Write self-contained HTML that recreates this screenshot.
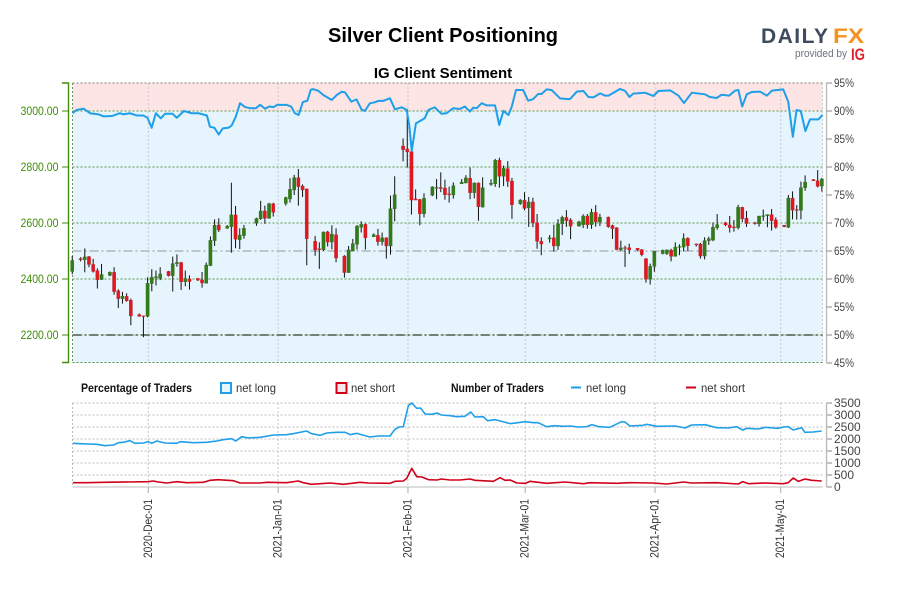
<!DOCTYPE html>
<html lang="en">
<head>
<meta charset="utf-8">
<title>Silver Client Positioning</title>
<style>
html,body{margin:0;padding:0;background:#fff;width:900px;height:600px;overflow:hidden}
svg{display:block;font-family:"Liberation Sans",Arial,sans-serif}
.nw{font-family:"Liberation Sans Narrow","Liberation Sans",Arial,sans-serif}
</style>
</head>
<body>
<svg id="chart" xmlns="http://www.w3.org/2000/svg" width="900" height="600" viewBox="0 0 900 600">
  <rect x="0" y="0" width="900" height="600" fill="#fff"/>
  <text x="443" y="42" text-anchor="middle" font-size="20" font-weight="bold" fill="#000">Silver Client Positioning</text>
  <text x="443" y="78" text-anchor="middle" font-size="15" font-weight="bold" fill="#000">IG Client Sentiment</text>
  <g>
    <text x="761" y="43" font-size="21" font-weight="bold" fill="#3f4a5c" textLength="67" lengthAdjust="spacing">DAILY</text>
    <text x="833" y="43" font-size="21" font-weight="bold" fill="#f5911e" textLength="31" lengthAdjust="spacingAndGlyphs">FX</text>
    <text x="795" y="57" font-size="11" fill="#6b7280" textLength="52" lengthAdjust="spacingAndGlyphs">provided by</text>
    <text x="851" y="60" font-size="17" font-weight="bold" fill="#e3202a" textLength="14" lengthAdjust="spacingAndGlyphs">IG</text>
  </g>
  <g id="main"></g>
  <g id="legend" class="nw" font-size="12">
    <text x="81" y="392" font-weight="bold" fill="#111" textLength="111" lengthAdjust="spacingAndGlyphs">Percentage of Traders</text>
    <rect x="221" y="383" width="10" height="10" fill="#e6f4fc" stroke="#1f9fe8" stroke-width="2"/>
    <text x="236" y="392" fill="#333" textLength="40" lengthAdjust="spacingAndGlyphs">net long</text>
    <rect x="336.5" y="383" width="10" height="10" fill="#f6e8ea" stroke="#d0021b" stroke-width="2"/>
    <text x="351" y="392" fill="#333" textLength="44" lengthAdjust="spacingAndGlyphs">net short</text>
    <text x="451" y="392" font-weight="bold" fill="#111" textLength="93" lengthAdjust="spacingAndGlyphs">Number of Traders</text>
    <line x1="571" x2="581" y1="387.5" y2="387.5" stroke="#1f9fe8" stroke-width="2"/>
    <text x="586" y="392" fill="#333" textLength="40" lengthAdjust="spacingAndGlyphs">net long</text>
    <line x1="686" x2="696" y1="387.5" y2="387.5" stroke="#d0021b" stroke-width="2"/>
    <text x="701" y="392" fill="#333" textLength="44" lengthAdjust="spacingAndGlyphs">net short</text>
  </g>
  <g id="lower"></g>
</svg>
<script>
const dateTickDays = [0, 31, 62, 90, 121, 151];
const dateTickLabels = ["2020-Dec-01", "2021-Jan-01", "2021-Feb-01", "2021-Mar-01", "2021-Apr-01", "2021-May-01"];
const priceTicks = [2200, 2400, 2600, 2800, 3000];
const percentTicks = [45, 50, 55, 60, 65, 70, 75, 80, 85, 90, 95];
const countTicks = [0, 500, 1000, 1500, 2000, 2500, 3000, 3500];

const candleDays = [-18,-16,-15,-14,-13,-12,-11,-9,-8,-7,-6,-5,-4,-2,-1,0,1,2,3,5,6,7,8,9,10,12,13,14,15,16,17,19,20,21,22,23,26,27,28,29,30,33,34,35,36,37,38,40,41,42,43,44,45,47,48,49,50,51,52,54,55,56,57,58,59,61,62,63,64,65,66,68,69,70,71,72,73,75,76,77,78,79,80,82,83,84,85,86,87,89,90,91,92,93,94,96,97,98,99,100,101,103,104,105,106,107,108,110,111,112,113,114,115,117,118,119,120,121,123,124,125,126,127,128,129,131,132,133,134,135,136,138,139,140,141,142,143,145,146,147,148,149,150,152,153,154,155,156,157,159,160,161];
const opens = [
2427,2473,2469,2480,2452,2430,2398,2413,2424,2358,
2330,2338,2324,2273,2269,2267,2384,2405,2403,2427,
2412,2455,2459,2390,2400,2402,2397,2385,2448,2537,
2593,2581,2587,2629,2540,2555,2599,2615,2643,2617,
2669,2670,2686,2718,2762,2732,2722,2535,2508,2504,
2568,2532,2558,2482,2423,2500,2524,2585,2595,2551,
2556,2533,2547,2518,2651,2875,2864,2855,2686,2684,
2633,2699,2726,2727,2725,2704,2700,2740,2743,2760,
2708,2743,2657,2738,2740,2824,2767,2794,2750,2669,
2681,2654,2675,2601,2535,2543,2547,2518,2597,2620,
2611,2589,2594,2625,2594,2638,2604,2621,2591,2583,
2505,2512,2512,2510,2505,2473,2399,2445,2491,2491,
2503,2481,2513,2514,2545,2525,2525,2482,2537,2539,
2583,2601,2593,2586,2583,2656,2617,2601,2597,2624,
2626,2630,2611,2592,2585,2689,2648,2645,2726,2755,
2751,2732];
const highs = [
2482,2478,2509,2482,2472,2438,2454,2427,2442,2363,
2354,2349,2330,2277,2269,2406,2435,2430,2442,2429,
2480,2488,2461,2430,2413,2403,2425,2459,2552,2613,
2617,2593,2744,2661,2581,2593,2619,2679,2662,2672,
2672,2694,2760,2772,2793,2738,2722,2554,2531,2569,
2572,2592,2581,2485,2518,2543,2593,2606,2598,2563,
2579,2566,2549,2698,2767,2902,3007,2890,2720,2686,
2706,2731,2757,2781,2755,2730,2745,2757,2771,2798,
2745,2745,2763,2756,2829,2833,2805,2821,2761,2685,
2710,2693,2690,2632,2549,2557,2594,2614,2626,2646,
2617,2608,2631,2632,2651,2664,2633,2623,2594,2585,
2537,2519,2526,2511,2507,2474,2455,2500,2505,2505,
2508,2531,2524,2563,2549,2527,2529,2549,2551,2602,
2632,2604,2625,2611,2665,2658,2643,2604,2625,2648,
2631,2650,2620,2593,2700,2713,2664,2748,2770,2757,
2789,2761];
const lows = [
2417,2463,2424,2442,2423,2366,2397,2410,2344,2296,
2312,2319,2235,2265,2192,2263,2356,2377,2396,2409,
2355,2444,2361,2374,2362,2393,2369,2384,2446,2518,
2568,2579,2494,2510,2507,2544,2590,2611,2597,2615,
2623,2662,2673,2700,2662,2693,2449,2483,2436,2500,
2516,2506,2460,2405,2422,2499,2505,2566,2505,2550,
2519,2520,2473,2487,2606,2820,2798,2630,2682,2592,
2620,2696,2685,2710,2683,2673,2687,2739,2742,2685,
2688,2608,2655,2733,2729,2726,2732,2729,2615,2665,
2645,2586,2585,2508,2485,2530,2498,2504,2557,2586,
2542,2587,2582,2580,2579,2587,2589,2583,2543,2504,
2501,2443,2489,2501,2481,2387,2380,2426,2488,2486,
2463,2480,2485,2498,2501,2516,2473,2470,2522,2535,
2576,2589,2566,2569,2577,2604,2586,2594,2587,2608,
2585,2573,2580,2585,2582,2613,2612,2613,2715,2750,
2727,2712];
const closes = [
2466,2469,2479,2452,2427,2397,2416,2424,2355,2330,
2338,2322,2268,2267,2267,2385,2406,2408,2418,2412,
2455,2459,2390,2402,2391,2396,2386,2450,2538,2592,
2575,2588,2629,2542,2557,2581,2616,2643,2617,2669,
2638,2691,2720,2762,2730,2718,2544,2504,2505,2568,
2532,2560,2475,2423,2504,2526,2588,2595,2547,2558,
2533,2547,2518,2651,2701,2862,2854,2682,2682,2633,
2688,2729,2727,2723,2701,2701,2733,2746,2761,2708,
2743,2658,2726,2742,2824,2767,2795,2749,2665,2682,
2652,2675,2600,2535,2525,2547,2518,2597,2620,2608,
2589,2604,2625,2594,2638,2604,2621,2587,2580,2505,
2511,2510,2504,2504,2487,2399,2445,2499,2503,2504,
2481,2514,2516,2545,2519,2522,2482,2537,2544,2585,
2594,2593,2583,2583,2656,2615,2598,2598,2625,2626,
2630,2608,2585,2587,2689,2646,2645,2726,2746,2751,
2731,2757];

const sentimentDays = [-18.1,-17.1,-15.4,-13.9,-11.9,-10.7,-8.7,-6.8,-6,-4.4,-2.8,-1.2,-0.2,0.8,1.8,3,4,5.8,6.8,8.5,10.4,12,14,14.7,15.8,16.8,17.8,19.1,19.9,20.9,21.9,23.1,24.3,25.7,26.7,27.9,28.9,29.9,30.8,33,34.1,35,35.9,36.9,38,38.8,39.4,40.6,41.8,43.8,45,46.2,47,48.5,49.7,50.9,51.7,52.9,54.1,54.9,56.1,57.7,58.9,60.5,61.7,62.3,62.9,63.9,65.3,66,66.9,68.4,70,71.2,72.8,74.4,75.6,76.8,77.6,78.4,79.6,80.8,82.8,83.8,84.8,86,86.8,87.8,89.5,90.7,91.9,93.1,93.9,95.1,96.3,98.3,99.9,100.7,102.3,103.9,105.1,106.3,107.9,109.1,109.9,112.6,113.8,114.9,115.8,118.6,120.6,121.8,124.6,126.6,127.9,129.8,132.9,134.1,135.7,136.9,138.7,140.1,140.9,141.8,142.9,144.1,146.1,147.7,148.9,151.6,152.8,153.9,154.8,155.8,156.9,158,160,161];
const sentimentLong = [89.6,90.2,90.4,89.6,89.4,89.05,89.1,89.6,89.4,89.6,89.2,89.2,88.8,87,89.6,88.7,89.5,89.5,88.8,90,89.6,89.6,89.2,87.2,87,85.8,86.9,87,87.4,89,91.4,90.7,90.5,90.5,91.1,90.4,90.8,90.7,91.1,91.1,90.8,89.6,89.3,91.6,91.85,93.8,93.9,93.6,92.85,91.97,92.86,93.45,93.3,91.67,92.08,90.3,90,91.37,91.55,91.8,91.8,92.26,90.3,90.66,90.2,87.5,82.86,87.8,88.4,88.7,90.2,90.66,89.5,89.6,90.5,90.36,90.8,89.9,90.6,90.5,91.4,91,91,87.5,90,89.3,90.8,93.75,93.75,91.85,92.14,93.04,93.04,93.87,93.75,92.26,92.14,92.14,93.45,93.57,92.5,92.44,93.15,92.74,92.74,93.93,93.63,92.5,93.1,93.27,92.68,93.57,93.69,92.74,91.43,93.27,92.98,92.5,92.32,92.9,92.74,93.63,93.75,90.8,92.98,93.39,93.45,92.74,93.63,93.87,91.67,85.4,90.18,90,86.43,88.5,88.5,89.3];

const longCountDays = [-18,-16.3,-14.3,-12.3,-10.3,-8.3,-7.15,-6,-4.4,-3.2,-1.2,0,0.8,2,4,6.8,7.6,10.8,13.9,16.3,17.9,19.9,20.9,22.3,23.9,26.7,29.9,33,34.6,37.8,39,41,42.6,45,47,48.2,49.8,52.9,54.9,57.7,58.9,59.9,60.9,62.1,62.9,64.1,65,66.1,67.7,68.9,70,72,73.6,75.6,77,78,80,81,82.8,86.4,90,92,93.1,95.1,97.1,99.1,100.7,102.7,104.7,105.9,107.5,110.2,113,113.8,115,118.2,119,121.4,125.8,128.2,129.7,133,135.7,138.5,140.5,141.9,142.9,145.7,147.3,150.4,151.6,152.8,154,156,156.8,158.8,160.8];
const longCounts = [1820,1806,1792,1778,1722,1750,1847,1861,1931,1820,1833,1889,1820,1917,1833,1820,1889,1847,1861,1917,1972,2014,1917,2097,2042,2070,2167,2181,2222,2333,2222,2153,2250,2278,2278,2181,2236,2083,2125,2125,2403,2500,2514,3389,3500,3278,3292,3042,3028,3083,3000,2972,2931,2945,3125,2917,2931,2764,2806,2639,2722,2681,2681,2514,2556,2528,2542,2500,2514,2597,2514,2486,2722,2708,2542,2570,2611,2528,2542,2458,2583,2597,2472,2458,2514,2375,2445,2417,2486,2445,2500,2514,2375,2472,2278,2292,2333];
const shortCountDays = [-18,-14.7,-10.7,0,1.2,2.4,4.4,6.8,9.2,13.1,14.7,16.7,20.3,21.9,26.7,28.3,33,35.8,37,39,43.4,46.6,50.6,52.5,57.7,58.9,60.9,61.7,62.9,64.1,65.3,66.9,68.9,70,72,74.4,76.8,78,82.4,84,85.2,86.4,88,90,91.1,95.1,99.5,103.9,105.5,111.8,115,120.6,123.8,127.8,129.7,135.7,140.9,141.9,143.3,147.3,151.6,152.8,154,155.2,156.8,158.4,160.8];
const shortCounts = [180,180,194,222,250,208,167,222,180,194,278,306,264,167,167,194,180,250,180,111,167,111,194,167,153,236,250,361,778,431,417,306,292,333,292,292,333,278,236,389,278,292,167,153,236,153,208,139,180,153,180,167,125,208,167,180,125,222,139,167,139,180,375,236,333,278,250];

const NS = "http://www.w3.org/2000/svg";
const main = document.getElementById("main");
const lower = document.getElementById("lower");
const PLOT_L = 72.5, PLOT_R = 822.5;
const xDay = d => 148.3 + 4.188 * d;
const yPrice = p => 335 + (2200 - p) * 0.28;
const yPercent = p => 83 + (95 - p) * 5.6;
const yCount = c => 487 - c * 0.024;

function make(parent, tag, attrs, text) {
  const el = document.createElementNS(NS, tag);
  for (const k in attrs) el.setAttribute(k, attrs[k]);
  if (text !== undefined) el.textContent = text;
  parent.appendChild(el);
  return el;
}
function lineString(days, values, yFn) {
  return days.map((d, i) => xDay(d).toFixed(2) + "," + yFn(values[i]).toFixed(2)).join(" ");
}

/* backgrounds */
let el = make(main, "rect", {x: PLOT_L, y: yPercent(95), width: PLOT_R - PLOT_L, height: yPercent(90) - yPercent(95), fill: "#fde5e6"});


el = make(main, "rect", {x: PLOT_L, y: yPercent(90), width: PLOT_R - PLOT_L, height: yPercent(45) - yPercent(90), fill: "#e6f4fd"});



/* vertical date grid, main + lower */
dateTickDays.forEach((d, i) => {
  const x = xDay(d);
  let g = make(main, "line", {x1: x, x2: x, y1: 83, y2: 362.5, stroke: "#c4c9cc", "stroke-width": 1, "stroke-dasharray": "2 2"});
  
  
  g = make(lower, "line", {x1: x, x2: x, y1: 403, y2: 487, stroke: "#c4c4c4", "stroke-width": 1, "stroke-dasharray": "2 2"});
  
  
  g = make(lower, "line", {x1: x, x2: x, y1: 487, y2: 493, stroke: "#aaa", "stroke-width": 1});
  
  
  g = make(lower, "text", {transform: "translate(" + (x + 3.5) + ",558) rotate(-90)", "font-size": 12, fill: "#333", class: "nw", textLength: 59, lengthAdjust: "spacingAndGlyphs"}, dateTickLabels[i]);
  
  
});

/* horizontal price grid and left axis */
const leftAxis = make(main, "path", {d: "M62 83H68.5V362.5H62", fill: "none", stroke: "#3f8f0a", "stroke-width": 1.4});


priceTicks.forEach(p => {
  const y = yPrice(p);
  let g = make(main, "line", {x1: PLOT_L, x2: PLOT_R, y1: y, y2: y, stroke: "#5d9440", "stroke-width": 1, "stroke-dasharray": "2 2"});
  
  
  g = make(main, "line", {x1: 62, x2: 68.5, y1: y, y2: y, stroke: "#3f8f0a", "stroke-width": 1});
  
  
  g = make(main, "text", {x: 58.5, y: y + 4, "text-anchor": "end", "font-size": 12, fill: "#3f8f0a", class: "nw", textLength: 38, lengthAdjust: "spacingAndGlyphs"}, p.toFixed(2));
  
  
});

/* plot frame dotted edges */
[[PLOT_L, 83, PLOT_R, 83, "#77806a"], [PLOT_L, 362.5, PLOT_R, 362.5, "#5d9440"], [PLOT_L, 83, PLOT_L, 362.5, "#6e8a5a"]].forEach(e => {
  const g = make(main, "line", {x1: e[0], y1: e[1], x2: e[2], y2: e[3], stroke: e[4], "stroke-width": 1, "stroke-dasharray": "2 2"});
  
  
});
el = make(main, "line", {x1: PLOT_R, y1: 83, x2: PLOT_R, y2: 362.5, stroke: "#c4c9cc", "stroke-width": 1, "stroke-dasharray": "2 2"});



/* reference lines */
el = make(main, "line", {x1: PLOT_L, x2: PLOT_R, y1: yPercent(65), y2: yPercent(65), stroke: "#a4abb0", "stroke-width": 1.3, "stroke-dasharray": "9 3 2 3"});


el = make(main, "line", {x1: PLOT_L, x2: PLOT_R, y1: yPercent(50), y2: yPercent(50), stroke: "#4c5a48", "stroke-width": 1.6, "stroke-dasharray": "9 3 2 3"});



/* right percent axis */
el = make(main, "line", {x1: 826.5, x2: 826.5, y1: 83, y2: 362.5, stroke: "#bdbdbd", "stroke-width": 1.4});


percentTicks.forEach(p => {
  const y = yPercent(p);
  let g = make(main, "line", {x1: 826.5, x2: 832, y1: y, y2: y, stroke: "#888", "stroke-width": 1});
  
  
  g = make(main, "text", {x: 834, y: y + 4, "font-size": 12, fill: "#444", class: "nw", textLength: 20, lengthAdjust: "spacingAndGlyphs"}, p + "%");
  
  
});

/* candles */
const candleLayer = make(main, "g", {});


candleDays.forEach((d, i) => {
  const x = xDay(d) - 0.7;
  const up = closes[i] >= opens[i];
  const top = yPrice(Math.max(opens[i], closes[i]));
  const bot = yPrice(Math.min(opens[i], closes[i]));
  const wick = make(candleLayer, "line", {x1: x, x2: x, y1: yPrice(highs[i]), y2: yPrice(lows[i]), stroke: "#111", "stroke-width": 1});
  
  
  const body = make(candleLayer, "rect", {x: x - 1.6, y: top, width: 3.2, height: Math.max(bot - top, 0.8), fill: up ? "#2f7d14" : "#e3151f", stroke: up ? "#3b6b2a" : "#b5343a", "stroke-width": 0.4});
  
  
});

/* sentiment line */
el = make(main, "polyline", {points: lineString(sentimentDays, sentimentLong, yPercent), fill: "none", stroke: "#1f9fe8", "stroke-width": 2, "stroke-linejoin": "round"});



/* lower pane */
countTicks.forEach(c => {
  const y = yCount(c);
  let g;
  if (c > 0) {
    g = make(lower, "line", {x1: PLOT_L, x2: PLOT_R, y1: y, y2: y, stroke: "#bdbdbd", "stroke-width": 1, "stroke-dasharray": "2 2"});
    
    
  }
  g = make(lower, "line", {x1: 826.5, x2: 832, y1: y, y2: y, stroke: "#888", "stroke-width": 1});
  
  
  g = make(lower, "text", {x: 834, y: y + 4, "font-size": 12, fill: "#444", class: "nw"}, String(c));
  
  
});
el = make(lower, "line", {x1: PLOT_L, x2: PLOT_L, y1: 403, y2: 487, stroke: "#bdbdbd", "stroke-width": 1, "stroke-dasharray": "2 2"});


el = make(lower, "line", {x1: PLOT_L, x2: PLOT_R, y1: 487, y2: 487, stroke: "#bbb", "stroke-width": 1});


el = make(lower, "line", {x1: 826.5, x2: 826.5, y1: 403, y2: 487, stroke: "#bdbdbd", "stroke-width": 1.4});


el = make(lower, "polyline", {points: lineString(longCountDays, longCounts, yCount), fill: "none", stroke: "#1f9fe8", "stroke-width": 1.6, "stroke-linejoin": "round"});


el = make(lower, "polyline", {points: lineString(shortCountDays, shortCounts, yCount), fill: "none", stroke: "#d0021b", "stroke-width": 1.6, "stroke-linejoin": "round"});


</script>
</body>
</html>
